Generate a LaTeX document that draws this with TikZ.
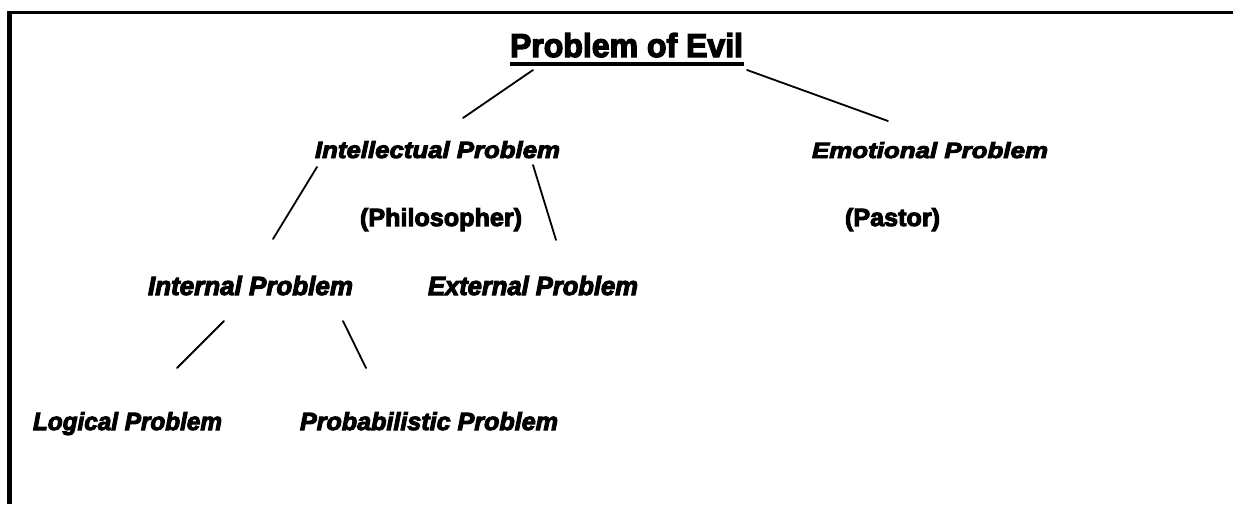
\documentclass[tikz,border=0pt]{standalone}
\usepackage{fontspec}
\setmainfont{Liberation Sans}
\newfontfamily\heavy[FakeBold=4]{Liberation Sans Bold}
\newfontfamily\heavyit[FakeBold=4]{Liberation Sans Bold Italic}
\usepackage{graphicx}
\newcommand{\fitbox}[3]{\resizebox{#1pt}{#2pt}{#3}}
\begin{document}
\begin{tikzpicture}[x=1pt,y=-1pt,
  lbl/.style={anchor=base west, inner sep=0pt, outer sep=0pt},
  conn/.style={line width=1.8pt, line cap=round},
  frame/.style={fill=black}]
\useasboundingbox (0,0) rectangle (1233,504);
% frame (top and left edges only)
\fill[frame] (7,11) rectangle (1233,14);
\fill[frame] (7,11) rectangle (12,504);
% title
\node[lbl] (evil) at (510,57) {\fitbox{233}{24}{\heavy Problem of Evil}};
\fill (510,62) rectangle (744,66);
% nodes
\node[lbl] (intel) at (315,158) {\fitbox{245}{17}{\heavyit Intellectual Problem}};
\node[lbl] (emot) at (812,158) {\fitbox{236}{16}{\heavyit Emotional Problem}};
\node[lbl] (phil) at (360,226) {\fitbox{162}{18}{\heavy (Philosopher)}};
\node[lbl] (past) at (845,226) {\fitbox{95}{18}{\heavy (Pastor)}};
\node[lbl] (inter) at (148,295) {\fitbox{205}{19}{\heavyit Internal Problem}};
\node[lbl] (exter) at (428,295) {\fitbox{210}{19}{\heavyit External Problem}};
\node[lbl] (logic) at (33,430) {\fitbox{189}{18}{\heavyit Logical Problem}};
\node[lbl] (prob) at (300,430) {\fitbox{258}{18}{\heavyit Probabilistic Problem}};
% connector end points
\coordinate (c1a) at (533,70);  \coordinate (c1b) at (463,118);
\coordinate (c2a) at (747,70);  \coordinate (c2b) at (888,121);
\coordinate (c3a) at (317,167); \coordinate (c3b) at (273,239);
\coordinate (c4a) at (533,165); \coordinate (c4b) at (556,240);
\coordinate (c5a) at (224,321); \coordinate (c5b) at (177,368);
\coordinate (c6a) at (343,321); \coordinate (c6b) at (366,368);
\draw[conn] (c1a) -- (c1b);
\draw[conn] (c2a) -- (c2b);
\draw[conn] (c3a) -- (c3b);
\draw[conn] (c4a) -- (c4b);
\draw[conn] (c5a) -- (c5b);
\draw[conn] (c6a) -- (c6b);
\end{tikzpicture}
\end{document}
